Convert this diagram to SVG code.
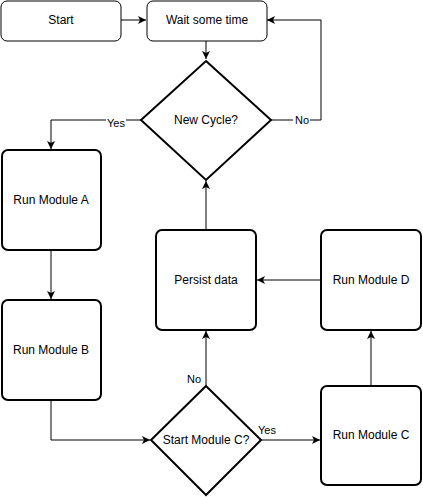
<svg xmlns="http://www.w3.org/2000/svg" width="423" height="497" viewBox="0 0 423 497">
<style>
.n1{fill:#fff;stroke:#000;stroke-width:1}
.n2{fill:#fff;stroke:#000;stroke-width:2}
.t{font-family:"Liberation Sans",Arial,sans-serif;font-size:12px;fill:#000;text-anchor:middle;dominant-baseline:central}
.l{font-family:"Liberation Sans",Arial,sans-serif;font-size:11px;fill:#000;text-anchor:middle;dominant-baseline:central}
.e{fill:none;stroke:#000;stroke-width:1;marker-end:url(#a)}
</style>
<defs>
<marker id="a" markerUnits="userSpaceOnUse" markerWidth="10" markerHeight="10" refX="8" refY="4" orient="auto">
<path d="M0,0 L8,4 L0,8 L2,4 Z" fill="#000"/>
</marker>
</defs>
<g id="connectors">
<path class="e" d="M121,20 L146,20"/>
<path class="e" d="M206,40 L206,59"/>
<path class="e" d="M271,120 L321,120 L321,20 L267,20"/>
<path class="e" d="M141,120 L51,120 L51,149"/>
<path class="e" d="M51,251 L51,299"/>
<path class="e" d="M51,401 L51,440 L150,440"/>
<path class="e" d="M261,440 L320,440"/>
<path class="e" d="M371,385 L371,331"/>
<path class="e" d="M321,280 L257,280"/>
<path class="e" d="M206,230 L206,181"/>
<path class="e" d="M206,385 L206,331"/>
<rect x="293" y="113" width="17" height="13" fill="#fff"/>
<text class="l" x="302" y="120">No</text>
<rect x="106" y="116" width="20" height="13" fill="#fff"/>
<text class="l" x="116" y="123">Yes</text>
<text class="l" x="194" y="379">No</text>
<text class="l" x="267" y="430">Yes</text>
</g>
<g id="start"><rect class="n1" x="1" y="1" width="120" height="40" rx="6"/><text class="t" x="61" y="20">Start</text></g>
<g id="wait"><rect class="n1" x="147" y="1" width="120" height="40" rx="6"/><text class="t" x="207" y="20">Wait some time</text></g>
<g id="newcycle"><polygon class="n2" points="206,61 271,120 206,180 141,120"/><text class="t" x="206" y="120">New Cycle?</text></g>
<g id="moduleA"><rect class="n2" x="2" y="150" width="99" height="100" rx="6"/><text class="t" x="51" y="200">Run Module A</text></g>
<g id="moduleB"><rect class="n2" x="2" y="300" width="99" height="100" rx="6"/><text class="t" x="51" y="350">Run Module B</text></g>
<g id="startC"><polygon class="n2" points="206,386 261,440 206,495 151,440"/><text class="t" x="206" y="440">Start Module C?</text></g>
<g id="moduleC"><rect class="n2" x="321" y="386" width="100" height="99" rx="6"/><text class="t" x="371" y="435">Run Module C</text></g>
<g id="moduleD"><rect class="n2" x="321" y="230" width="100" height="100" rx="6"/><text class="t" x="371" y="280">Run Module D</text></g>
<g id="persist"><rect class="n2" x="156" y="230" width="100" height="100" rx="6"/><text class="t" x="206" y="280">Persist data</text></g>
</svg>
